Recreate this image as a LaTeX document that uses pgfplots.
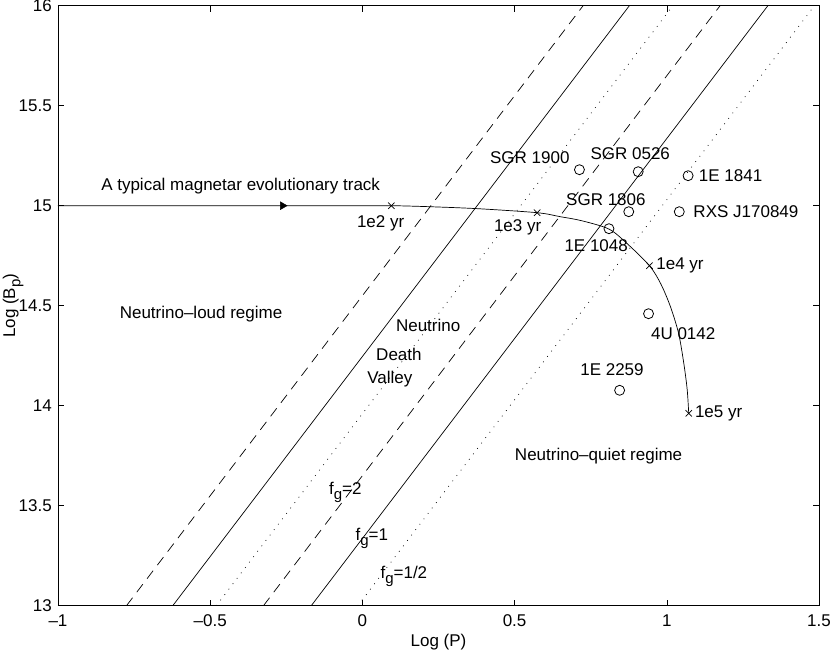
\documentclass[border=0pt]{standalone}
\usepackage{fontspec}
\setmainfont{Liberation Sans}
\usepackage{pgfplots}
\pgfplotsset{compat=1.18}
\newcommand\sub[1]{\raisebox{-0.6ex}{\fontsize{15}{15}\selectfont #1}}
\begin{document}
\fontsize{17}{20}\selectfont
\begin{tikzpicture}[font=\fontsize{17}{20}\selectfont]
\begin{axis}[
    scale only axis,
    width=761pt, height=600pt,
    xmin=-1, xmax=1.5, ymin=13, ymax=16,
    xtick={-1,-0.5,0,0.5,1,1.5},
    xticklabels={--1,--0.5,0,0.5,1,1.5},
    ytick={13,13.5,14,14.5,15,15.5,16},
    yticklabels={13,13.5,14,14.5,15,15.5,16},
    tick align=inside,
    major tick length=6pt,
    every tick/.style={black, line width=0.6pt},
    axis line style={line width=0.8pt},
    ticklabel style={font=\fontsize{17}{20}\selectfont},
    xticklabel style={anchor=north, inner sep=0pt, yshift=-8.6pt},
    yticklabel style={anchor=east, inner sep=0pt, xshift=-6pt},
    xlabel={Log (P)}, ylabel={Log (B\sub{p})},
    label style={font=\fontsize{17}{20}\selectfont},
    every axis x label/.style={at={(axis description cs:0.5,-0.0688)}, anchor=base, inner sep=0pt},
    every axis y label/.style={at={(axis description cs:-0.0565,0.5)}, rotate=90, anchor=base, inner sep=0pt},
]
\coordinate (sw) at (rel axis cs:0,0);
% death lines, f_g = 2 (dashed), 1 (solid), 1/2 (dotted)
\addplot[black, line width=0.7pt, dash pattern=on 10pt off 7pt] coordinates {(-0.775,13) (0.725,16)};
\addplot[black, line width=0.7pt] coordinates {(-0.623,13) (0.877,16)};
\addplot[black, line width=0.7pt, dash pattern=on 0.8pt off 6pt] coordinates {(-0.48,13) (1.02,16)};
\addplot[black, line width=0.7pt, dash pattern=on 10pt off 7pt] coordinates {(-0.325,13) (1.175,16)};
\addplot[black, line width=0.7pt] coordinates {(-0.168,13) (1.332,16)};
\addplot[black, line width=0.7pt, dash pattern=on 0.8pt off 6pt] coordinates {(-0.015,13) (1.485,16)};
% evolutionary track
\addplot[black, line width=0.7pt, smooth] coordinates {
    (-1,15) (0.0,15) (0.1,15.0) (0.22,14.995) (0.38,14.985) (0.574,14.965)
    (0.65,14.945) (0.72,14.925) (0.81,14.883) (0.87,14.81) (0.943,14.70)
    (0.98,14.61) (1.012,14.495) (1.039,14.36) (1.056,14.21) (1.067,14.08) (1.072,13.962)
};
\addplot[only marks, mark=triangle*, mark size=4.5pt, mark options={rotate=-90, fill=black}] coordinates {(-0.262,15)};
\addplot[only marks, mark=x, mark size=4.5pt, mark options={line width=0.7pt}] coordinates {
    (0.095,15) (0.574,14.965) (0.943,14.70) (1.072,13.962)
};
% magnetars
\addplot[only marks, mark=o, mark size=5pt, mark options={line width=0.8pt}] coordinates {
    (0.713,15.18) (0.906,15.17) (1.070,15.15) (0.875,14.97) (1.041,14.97)
    (0.810,14.885) (0.940,14.46) (0.845,14.077)
};
\node at (axis cs:-0.40,15.10) {A typical magnetar evolutionary track};
\node at (axis cs:-0.53,14.46) {Neutrino--loud regime};
\node at (axis cs:0.776,13.75) {Neutrino--quiet regime};
\node at (axis cs:0.216,14.40) {Neutrino};
\node at (axis cs:0.12,14.255) {Death};
\node at (axis cs:0.09,14.135) {Valley};
\node at (axis cs:0.55,15.24) {SGR 1900};
\node at (axis cs:0.88,15.26) {SGR 0526};
\node[anchor=west, inner sep=0pt] at (axis cs:1.105,15.15) {1E 1841};
\node at (axis cs:0.80,15.03) {SGR 1806};
\node[anchor=west, inner sep=0pt] at (axis cs:1.087,14.97) {RXS J170849};
\node at (axis cs:0.768,14.80) {1E 1048};
\node at (axis cs:0.06,14.91) {1e2 yr};
\node at (axis cs:0.51,14.89) {1e3 yr};
\node[anchor=west, inner sep=0pt] at (axis cs:0.965,14.70) {1e4 yr};
\node[anchor=west, inner sep=0pt] at (axis cs:1.092,13.962) {1e5 yr};
\node at (axis cs:1.054,14.36) {4U 0142};
\node at (axis cs:0.82,14.18) {1E 2259};
\node[anchor=west, inner sep=0pt] at (axis cs:-0.11,13.565) {f\sub{g}=2};
\node[anchor=west, inner sep=0pt] at (axis cs:-0.023,13.335) {f\sub{g}=1};
\node[anchor=west, inner sep=0pt] at (axis cs:0.059,13.145) {f\sub{g}=1/2};
\end{axis}
\pgfresetboundingbox
\path (sw) ++(-58pt,-45.3pt) rectangle ++(830pt,651pt);
\end{tikzpicture}
\end{document}
